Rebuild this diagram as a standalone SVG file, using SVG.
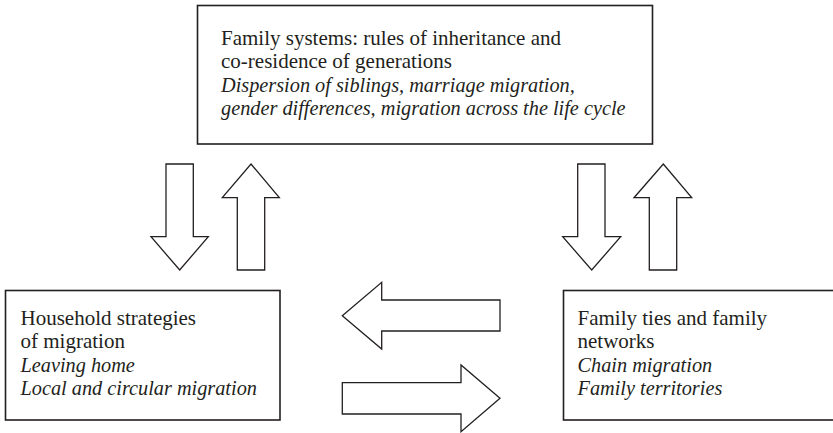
<svg xmlns="http://www.w3.org/2000/svg" width="833" height="433" viewBox="0 0 833 433">
  <defs>
    <style>
      .box { fill: #ffffff; stroke: #231f20; stroke-width: 1.6; }
      .arrow { fill: #ffffff; stroke: #231f20; stroke-width: 1.3; stroke-linejoin: miter; }
      .t { font-family: "Liberation Serif", "Times New Roman", serif; font-size: 21px; fill: #231f20; }
      .i { font-style: italic; font-size: 20.3px; }
    </style>
  </defs>
  <rect width="833" height="433" fill="#ffffff"/>

  <!-- Top node: family systems -->
  <g id="family-systems">
    <rect class="box" x="197.5" y="5.5" width="455" height="138.5"/>
    <text class="t" x="221" y="44.5">Family systems: rules of inheritance and</text>
    <text class="t" x="221" y="68">co-residence of generations</text>
    <text class="t i" x="221" y="91.5">Dispersion of siblings, marriage migration,</text>
    <text class="t i" x="221" y="115">gender differences, migration across the life cycle</text>
  </g>

  <!-- Bottom-left node: household strategies -->
  <g id="household-strategies">
    <rect class="box" x="5.5" y="290.5" width="274.5" height="129.5"/>
    <text class="t" x="20.5" y="324.5">Household strategies</text>
    <text class="t" x="20.5" y="348">of migration</text>
    <text class="t i" x="20.5" y="371.5">Leaving home</text>
    <text class="t i" x="20.5" y="395">Local and circular migration</text>
  </g>

  <!-- Bottom-right node: family ties and networks -->
  <g id="family-ties">
    <rect class="box" x="563.5" y="290.5" width="272" height="129.5"/>
    <text class="t" x="577.5" y="324.5">Family ties and family</text>
    <text class="t" x="577.5" y="348">networks</text>
    <text class="t i" x="577.5" y="371.5">Chain migration</text>
    <text class="t i" x="577.5" y="395">Family territories</text>
  </g>

  <!-- Connectors: block arrows between the nodes -->
  <g id="connectors">
    <!-- top to household (down) -->
    <polygon class="arrow" points="166,164 193.3,164 193.3,236.7 208.3,236.7 179.7,270 151,236.7 166,236.7"/>
    <!-- household to top (up) -->
    <polygon class="arrow" points="251,164 279.3,197.7 264.7,197.7 264.7,270 237.3,270 237.3,197.7 222.3,197.7"/>
    <!-- top to family ties (down) -->
    <polygon class="arrow" points="577.7,164 605,164 605,236.7 620.7,236.7 591.7,270 562.7,236.7 577.7,236.7"/>
    <!-- family ties to top (up) -->
    <polygon class="arrow" points="663.3,164 691.7,197.7 676.7,197.7 676.7,270 649.3,270 649.3,197.7 634,197.7"/>
    <!-- family ties to household (left) -->
    <polygon class="arrow" points="342.3,315.7 381.7,282.3 381.7,300 500,300 500,331 381.7,331 381.7,349"/>
    <!-- household to family ties (right) -->
    <polygon class="arrow" points="342.3,382.7 461,382.7 461,365 500,398.3 461,431.7 461,414 342.3,414"/>
  </g>
</svg>
